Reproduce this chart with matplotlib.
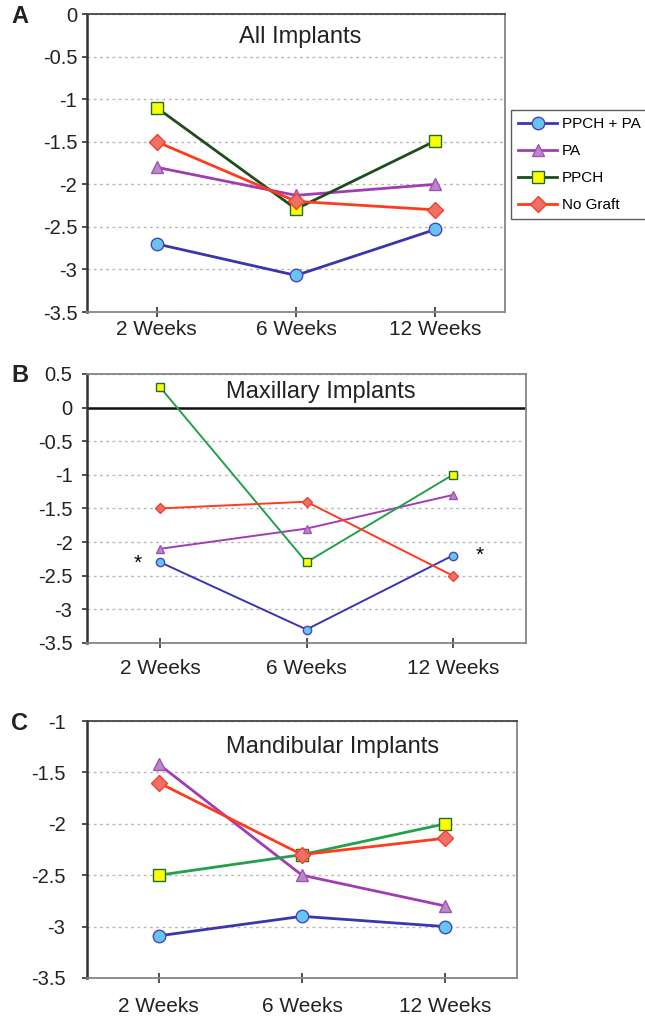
import matplotlib
matplotlib.use('Agg')
import matplotlib.pyplot as plt

plt.rcParams['font.family'] = ['Liberation Sans', 'DejaVu Sans']

width = 645
height = 1023
dpi = 100

weeks = ['2 Weeks', '6 Weeks', '12 Weeks']
series = ['PPCH + PA', 'PA', 'PPCH', 'No Graft']

# panel A - all implants
all_ppch_pa = [-2.7, -3.07, -2.53]
all_pa = [-1.8, -2.13, -2.0]
all_ppch = [-1.1, -2.29, -1.49]
all_no_graft = [-1.5, -2.2, -2.3]

# panel B - maxillary implants
max_ppch_pa = [-2.3, -3.3, -2.2]
max_pa = [-2.1, -1.8, -1.3]
max_ppch = [0.3, -2.3, -1.0]
max_no_graft = [-1.5, -1.4, -2.5]

# panel C - mandibular implants
man_ppch_pa = [-3.09, -2.9, -3.0]
man_pa = [-1.42, -2.5, -2.8]
man_ppch = [-2.5, -2.3, -2.0]
man_no_graft = [-1.6, -2.3, -2.14]

line_colors = ['#3a35b0', '#a23cb4', '#1d4d1d', '#ff3b1e']
line_colors_bc = ['#3a35b0', '#a23cb4', '#22a04a', '#ff3b1e']
face_colors = ['#66c4ee', '#b888c8', '#ffff00', '#f07068']
edge_colors = ['#4a45c0', '#a050b8', '#1d6d2d', '#f04030']
markers = ['o', '^', 's', 'D']


def draw_panel(ax, data, colors, lw, ms, ylim, title, title_xy, ypad, xpad):
    x = list(range(len(weeks)))
    for i, vals in enumerate(data):
        m = markers[i]
        size = ms * 0.85 if m == 'D' else ms
        ax.plot(x, vals, color=colors[i], lw=lw, marker=m, markersize=size,
                markerfacecolor=face_colors[i], markeredgecolor=edge_colors[i],
                markeredgewidth=1.0, label=series[i], zorder=3)
    ax.set_xlim(-0.5, 2.5)
    ax.set_ylim(*ylim)
    ticks = [ylim[0] + 0.5 * k for k in range(int(round((ylim[1] - ylim[0]) / 0.5)) + 1)]
    ax.set_yticks(ticks)
    ax.set_yticklabels(['%g' % t for t in ticks])
    ax.set_xticks(x)
    ax.set_xticklabels(weeks)
    ax.yaxis.grid(True, color='#b8b8b8', linestyle=(0, (2, 2.5)), lw=1.0)
    ax.set_axisbelow(True)
    ax.tick_params(axis='y', length=3.5, width=1.2, direction='out', pad=ypad,
                   labelsize=14.5, colors='#333333', labelcolor='#222222')
    ax.tick_params(axis='x', length=7, width=1.2, direction='inout', pad=xpad,
                   labelsize=15, colors='#333333', labelcolor='#222222')
    ax.spines['left'].set_color('#333333')
    ax.spines['left'].set_linewidth(1.8)
    for side in ['top', 'right', 'bottom']:
        ax.spines[side].set_color('#858585')
        ax.spines[side].set_linewidth(1.3)
    ax.text(title_xy[0], title_xy[1], title, transform=ax.transAxes, ha='center',
            va='center', fontsize=17, color='#222222')


def panel_letter(fig, ax, letter):
    top = ax.get_position().y1
    fig.text(0.031, top - 0.002, letter, ha='center', va='center',
             fontsize=17, fontweight='bold', color='#222222')


fig = plt.figure(figsize=(width / dpi, height / dpi), dpi=dpi)

ax_a = fig.add_axes([0.1349, 0.695, 0.6481, 0.2913])
draw_panel(ax_a, [all_ppch_pa, all_pa, all_ppch, all_no_graft], line_colors,
           2.0, 9, (-3.5, 0), 'All Implants', (0.51, 0.923), 3.5, 2)
ax_a.spines['top'].set_color('#444444')
panel_letter(fig, ax_a, 'A')

ax_b = fig.add_axes([0.1349, 0.3715, 0.6806, 0.263])
draw_panel(ax_b, [max_ppch_pa, max_pa, max_ppch, max_no_graft], line_colors_bc,
           1.4, 6, (-3.5, 0.5), 'Maxillary Implants', (0.533, 0.933), 7, 8)
ax_b.axhline(0, color='#111111', lw=1.8, zorder=2)
ax_b.annotate('*', xy=(0, max_ppch_pa[0]), xytext=(-16, -1), textcoords='offset points',
              ha='center', va='center', fontsize=15)
ax_b.annotate('*', xy=(2, max_ppch_pa[2]), xytext=(19, 0), textcoords='offset points',
              ha='center', va='center', fontsize=15)
panel_letter(fig, ax_b, 'B')

ax_c = fig.add_axes([0.1349, 0.044, 0.6667, 0.2512])
draw_panel(ax_c, [man_ppch_pa, man_pa, man_ppch, man_no_graft], line_colors_bc,
           2.0, 9, (-3.5, -1), 'Mandibular Implants', (0.57, 0.899), 12, 10)
ax_c.spines['top'].set_color('#444444')
panel_letter(fig, ax_c, 'C')

handles, labels = ax_a.get_legend_handles_labels()
leg = fig.legend(handles, labels, loc='upper left', bbox_to_anchor=(0.792, 0.892),
                 frameon=True, fontsize=11, handlelength=2.6, handletextpad=0.3,
                 labelspacing=0.85, borderpad=0.45, fancybox=False, borderaxespad=0)
leg.get_frame().set_edgecolor('#333333')
leg.get_frame().set_linewidth(1.0)

fig.savefig('out.png', dpi=dpi)
